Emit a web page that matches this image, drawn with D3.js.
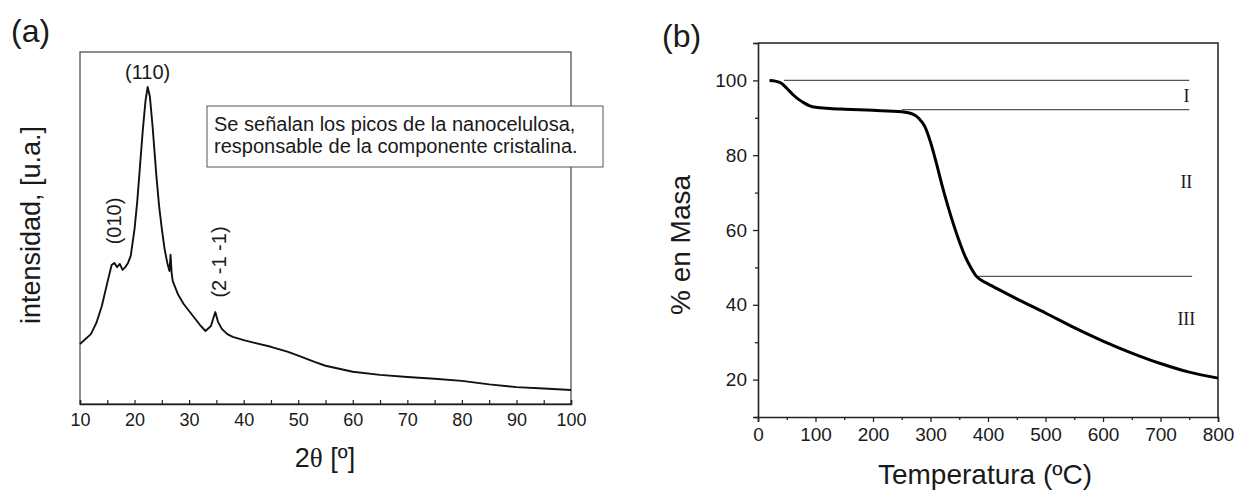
<!DOCTYPE html>
<html>
<head>
<meta charset="utf-8">
<script src="https://cdn.jsdelivr.net/npm/d3@7"></script>
<style>
  body { margin: 0; background: #fff; }
  svg text { font-family: "Liberation Sans", Arial, sans-serif; fill: #1a1a1a; }
</style>
</head>
<body>
<svg id="chart" width="1234" height="491"></svg>
<script>
// (a) XRD pattern
const xrdTheta = [10, 11, 12, 13, 14, 15, 15.8, 16.3, 16.8, 17.3, 17.8, 18.3, 18.8, 19.3, 20, 20.5, 21, 21.5, 22, 22.4, 22.8, 23.3, 24, 24.5, 25, 25.5, 26, 26.4, 26.6, 26.8, 27, 28, 29, 30, 31, 32, 33, 34, 34.8, 35.3, 36, 37, 38, 40, 42, 45, 48, 50, 53, 55, 60, 65, 70, 75, 80, 85, 90, 95, 100];
const xrdIntensity = [171, 185, 199, 231, 279, 345, 396, 402, 390, 399, 382, 390, 402, 422, 499, 578, 678, 778, 863, 903, 877, 792, 650, 564, 499, 442, 402, 379, 425, 373, 350, 311, 285, 265, 245, 225, 208, 222, 262, 234, 214, 199, 191, 182, 174, 163, 149, 138, 120, 109, 92, 83, 77, 72, 66, 56, 48, 44, 40];
const xrdTicks = [10, 20, 30, 40, 50, 60, 70, 80, 90, 100];
const peakNames = ["(110)", "(010)", "(2 -1 -1)"];
const peakTheta = [22.4, 16.5, 34.8];
const noteLines = ["Se señalan los picos de la nanocelulosa,", "responsable de la componente cristalina."];

// (b) TGA curve
const tgaTemp = [20, 30, 40, 50, 60, 70, 80, 90, 100, 125, 150, 200, 250, 270, 280, 290, 300, 310, 320, 330, 340, 350, 360, 370, 380, 390, 400, 450, 500, 550, 600, 650, 700, 750, 800];
const tgaMass = [100, 99.8, 99.3, 97.9, 96.3, 95.0, 94.0, 93.2, 92.8, 92.5, 92.3, 92.0, 91.6, 90.9, 89.8, 87.7, 83.5, 78.0, 72.0, 66.5, 61.5, 57.0, 53.0, 50.0, 47.6, 46.4, 45.6, 41.6, 37.8, 33.9, 30.3, 27.1, 24.3, 22.0, 20.4];
const tgaTicks = [0, 100, 200, 300, 400, 500, 600, 700, 800];
const massTicks = [20, 40, 60, 80, 100];
const stepLevel = [100, 92.2, 47.6];
const stepFrom = [45, 250, 383];
const stepTo = [750, 750, 755];
const stageNames = ["I", "II", "III"];
const stageMass = [95.7, 72.8, 36.3];

const svg = d3.select("#chart");
const serif = "'Liberation Serif', 'Times New Roman', serif";

// ---------- panel (a) ----------
const a = {left: 80, top: 52, right: 571, bottom: 404};
const xA = d3.scaleLinear().domain([10, 100]).range([a.left, a.right]);
const yA = d3.scaleLinear().domain([0, 1000]).range([a.bottom, a.bottom - 351]);

svg.append("text").attr("x", 11).attr("y", 42).style("font-size", "32px").text("(a)");

svg.append("rect")
    .attr("x", a.left).attr("y", a.top)
    .attr("width", a.right - a.left).attr("height", a.bottom - a.top)
    .attr("fill", "none").attr("stroke", "#444").attr("stroke-width", 1.2);

// inward ticks on the bottom axis
const axA = svg.append("g")
    .attr("transform", "translate(0," + a.bottom + ")")
    .call(d3.axisBottom(xA).tickValues(d3.range(10, 101, 5)).tickSize(-4).tickPadding(9)
        .tickFormat(d => xrdTicks.includes(d) ? d : ""));
axA.select(".domain").attr("stroke", "#222").attr("stroke-width", 1.6);
axA.selectAll(".tick line").attr("stroke", "#222").attr("stroke-width", 1.2);
axA.selectAll(".tick text").style("font-size", "18px").attr("fill", "#1a1a1a").attr("font-family", null);

svg.append("path")
    .datum(xrdTheta.map((t, i) => [t, xrdIntensity[i]]))
    .attr("fill", "none")
    .attr("stroke", "#111")
    .attr("stroke-width", 1.9)
    .attr("stroke-linejoin", "round")
    .attr("d", d3.line().x(d => xA(d[0])).y(d => yA(d[1])));

// peak labels
svg.append("text").attr("x", xA(peakTheta[0])).attr("y", 79)
    .attr("text-anchor", "middle").style("font-size", "20px").text(peakNames[0]);
svg.append("text")
    .attr("transform", "translate(121,221) rotate(-90)")
    .attr("text-anchor", "middle").style("font-size", "20px").text(peakNames[1]);
svg.append("text")
    .attr("transform", "translate(226,262) rotate(-90)")
    .attr("text-anchor", "middle").style("font-size", "20px").text(peakNames[2]);

// note box
svg.append("rect").attr("x", 207).attr("y", 106).attr("width", 396).attr("height", 61)
    .attr("fill", "#fff").attr("stroke", "#555").attr("stroke-width", 1);
noteLines.forEach((s, i) => {
    svg.append("text").attr("x", 214).attr("y", 131 + i * 22)
        .style("font-size", "20px").text(s);
});

svg.append("text")
    .attr("transform", "translate(40,225) rotate(-90)")
    .attr("text-anchor", "middle").style("font-size", "27px").text("intensidad, [u.a.]");

const tA = svg.append("text").attr("x", 325).attr("y", 467)
    .attr("text-anchor", "middle").style("font-size", "27px");
tA.append("tspan").text("2");
tA.append("tspan").style("font-family", serif).text("θ");
tA.append("tspan").text(" [º]");

// ---------- panel (b) ----------
const b = {left: 758, top: 43, right: 1218, bottom: 417};
const xB = d3.scaleLinear().domain([0, 800]).range([b.left, b.right]);
const yB = d3.scaleLinear().domain([10, 110]).range([b.bottom, b.top]);

svg.append("text").attr("x", 662).attr("y", 47).style("font-size", "32px").text("(b)");

// top and right frame
svg.append("path")
    .attr("d", "M" + b.left + "," + b.top + "H" + b.right + "V" + b.bottom)
    .attr("fill", "none").attr("stroke", "#222").attr("stroke-width", 1.5);

const axBx = svg.append("g")
    .attr("transform", "translate(0," + b.bottom + ")")
    .call(d3.axisBottom(xB).tickValues(d3.range(0, 801, 50)).tickSize(5).tickPadding(6)
        .tickFormat(d => tgaTicks.includes(d) ? d : ""));
axBx.selectAll(".tick").filter(d => !tgaTicks.includes(d)).select("line").attr("y2", 3);

const axBy = svg.append("g")
    .attr("transform", "translate(" + b.left + ",0)")
    .call(d3.axisLeft(yB).tickValues(d3.range(10, 111, 10)).tickSize(5).tickPadding(6)
        .tickFormat(d => massTicks.includes(d) ? d : ""));
axBy.selectAll(".tick").filter(d => !massTicks.includes(d)).select("line").attr("x2", -3);

[axBx, axBy].forEach(g => {
    g.select(".domain").attr("stroke", "#222").attr("stroke-width", 1.6);
    g.selectAll(".tick line").attr("stroke", "#222").attr("stroke-width", 1.3);
    g.selectAll(".tick text").style("font-size", "19px").attr("fill", "#1a1a1a").attr("font-family", null);
});

// step lines
stepLevel.forEach((m, i) => {
    svg.append("line")
        .attr("x1", xB(stepFrom[i])).attr("x2", xB(stepTo[i]))
        .attr("y1", yB(m)).attr("y2", yB(m))
        .attr("stroke", "#555").attr("stroke-width", 1.2);
});

stageNames.forEach((s, i) => {
    svg.append("text").attr("x", xB(745)).attr("y", yB(stageMass[i]) + 6)
        .attr("text-anchor", "middle")
        .style("font-family", serif).style("font-size", "18px").text(s);
});

svg.append("path")
    .datum(tgaTemp.map((t, i) => [t, tgaMass[i]]))
    .attr("fill", "none")
    .attr("stroke", "#000")
    .attr("stroke-width", 3)
    .attr("d", d3.line().curve(d3.curveMonotoneX).x(d => xB(d[0])).y(d => yB(d[1])));

svg.append("text")
    .attr("transform", "translate(690,245) rotate(-90)")
    .attr("text-anchor", "middle").style("font-size", "28px").text("% en Masa");

svg.append("text").attr("x", 985).attr("y", 484)
    .attr("text-anchor", "middle").style("font-size", "28px").text("Temperatura (ºC)");
</script>
</body>
</html>
